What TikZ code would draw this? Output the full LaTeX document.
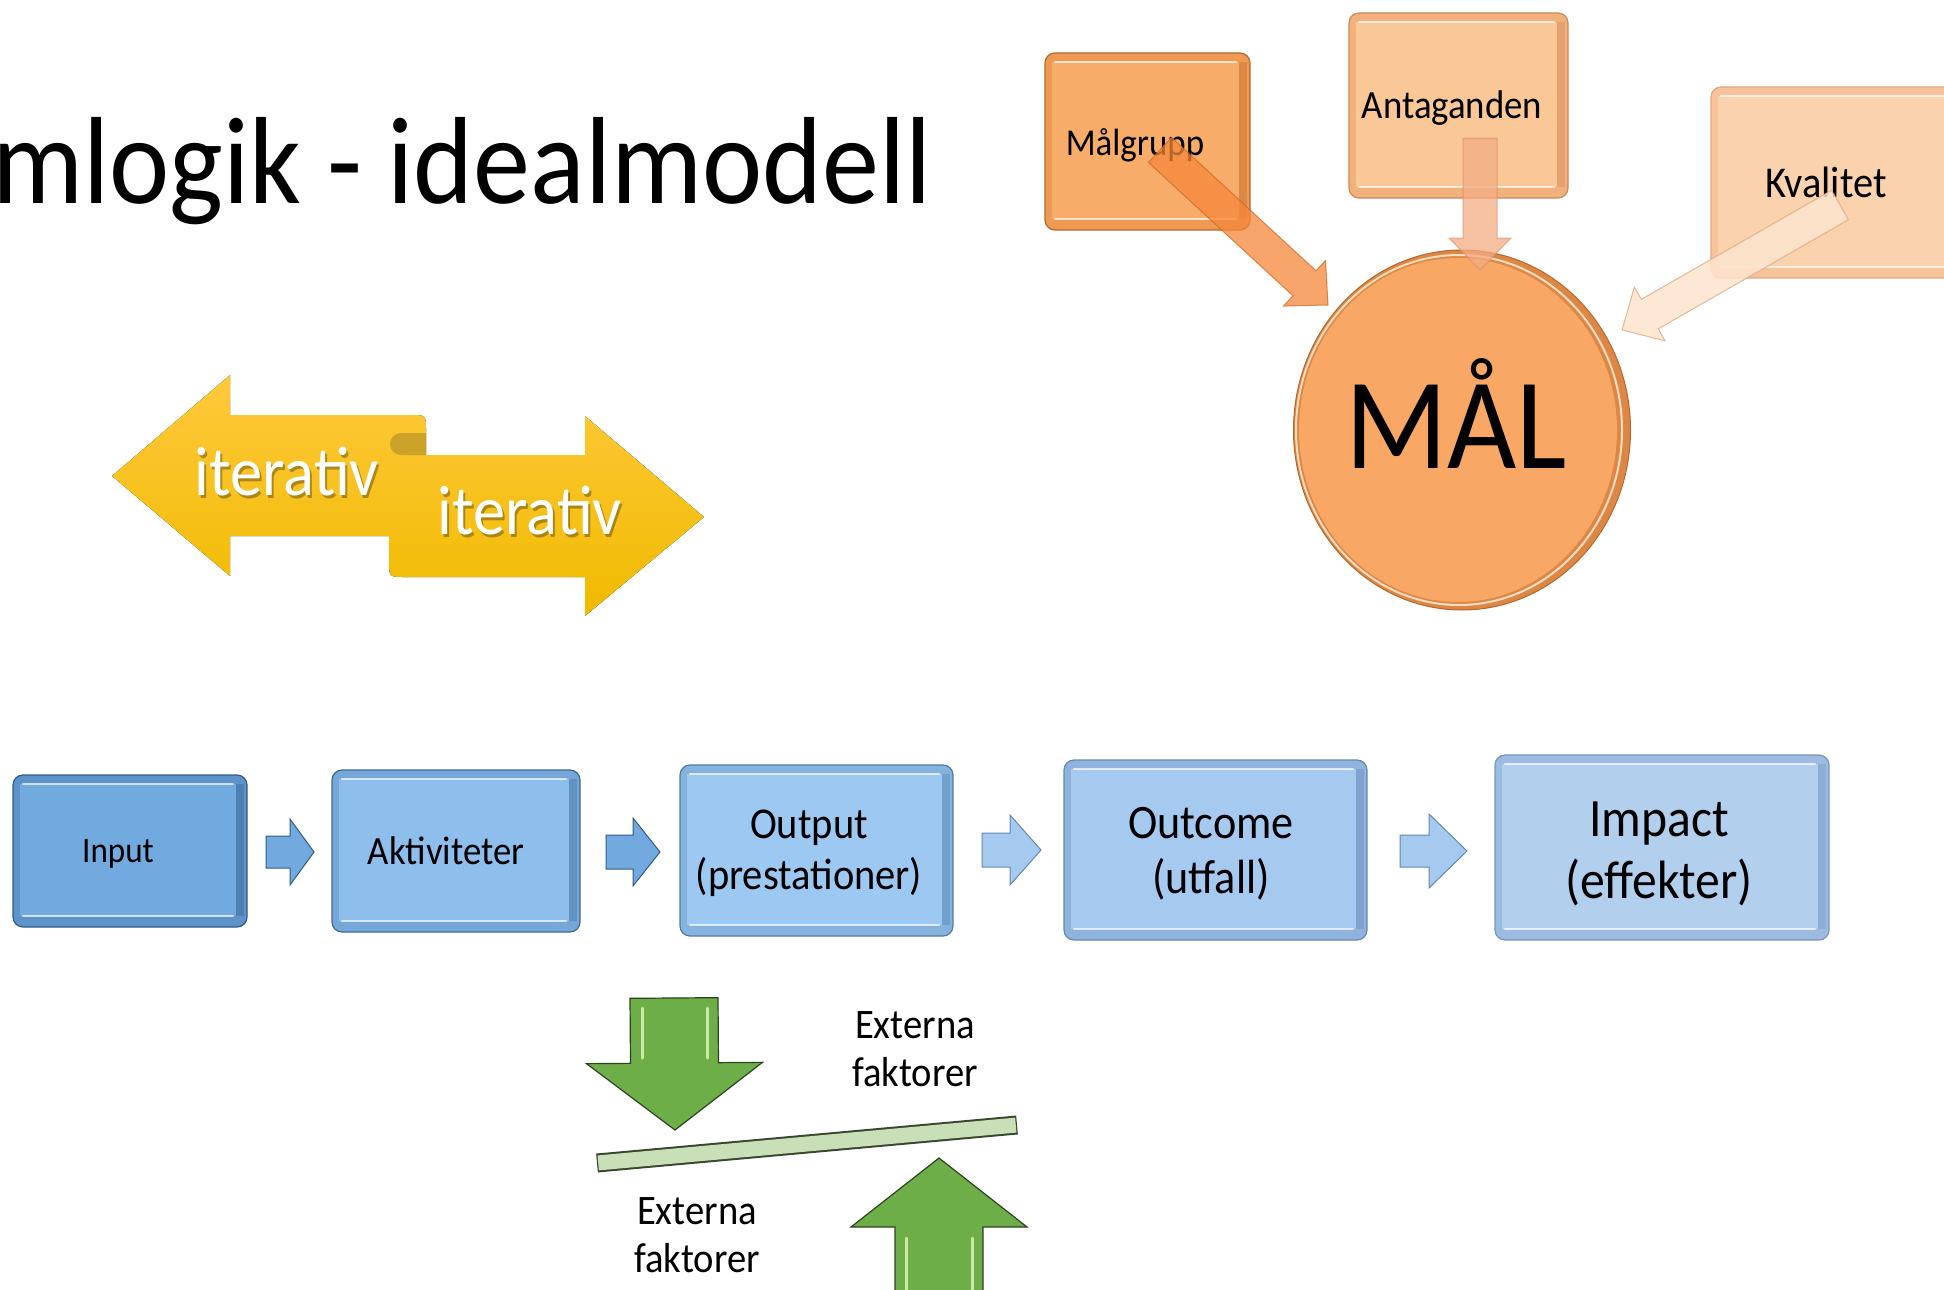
\documentclass[tikz,border=0pt]{standalone}
\usepackage{fontspec}
\setmainfont{Carlito}[FakeStretch=0.92]
\usetikzlibrary{calc,shapes.geometric}
\definecolor{yelA}{HTML}{FFC93C}
\definecolor{yelB}{HTML}{F0BA00}
\definecolor{yelFold}{HTML}{C9A227}
\definecolor{bAf}{HTML}{72AAE0}\definecolor{bAr}{HTML}{5D93C9}\definecolor{bAs}{HTML}{2F5C88}
\definecolor{bBf}{HTML}{8DBEEC}\definecolor{bBr}{HTML}{76A7D8}\definecolor{bBs}{HTML}{3E6C99}
\definecolor{bCf}{HTML}{9CC8F1}\definecolor{bCr}{HTML}{86B2DE}\definecolor{bCs}{HTML}{4F7CA8}
\definecolor{bDf}{HTML}{A6C9EF}\definecolor{bDr}{HTML}{8FB3DC}\definecolor{bDs}{HTML}{6488B4}
\definecolor{bEf}{HTML}{B3CFEE}\definecolor{bEr}{HTML}{9DBBE0}\definecolor{bEs}{HTML}{7696C0}
\definecolor{oAf}{HTML}{F8AC6A}\definecolor{oAr}{HTML}{EE9A55}\definecolor{oAs}{HTML}{B8672B}
\definecolor{oBf}{HTML}{FAC896}\definecolor{oBr}{HTML}{F2B07C}\definecolor{oBs}{HTML}{C98A5A}
\definecolor{oCf}{HTML}{FBD2AE}\definecolor{oCr}{HTML}{F7C39A}\definecolor{oCs}{HTML}{E0A882}
\definecolor{arrA}{HTML}{F5873A}\definecolor{arrAd}{HTML}{C9661F}
\definecolor{arrB}{HTML}{F4AC85}\definecolor{arrBd}{HTML}{D88A5E}
\definecolor{malRim}{HTML}{DC8745}
\definecolor{malFace}{HTML}{F9A764}
\definecolor{grF}{HTML}{6DAE48}
\definecolor{grD}{HTML}{2B4420}
\definecolor{grL}{HTML}{C9E8A4}
\definecolor{barF}{HTML}{C8DFB8}
\definecolor{barD}{HTML}{38452F}
\newcommand{\fsz}[1]{\fontsize{#1pt}{\dimexpr #1pt*23/20\relax}\selectfont}
% block arrow: x1,y1 (tail), x2,y2 (tip), shaft half width, head half width, head length, style
\newcommand{\barrow}[8]{%
  \pgfmathsetmacro{\baang}{atan2(#2-#4,#3-#1)}%
  \pgfmathsetmacro{\balen}{veclen(#3-#1,#4-#2)}%
  \begin{scope}[shift={(#1,#2)}, rotate=\baang]
    \path[#8] (0,#5) -- ({\balen-#7},#5) -- ({\balen-#7},#6) -- (\balen,0) --
      ({\balen-#7},-#6) -- ({\balen-#7},-#5) -- (0,-#5) -- cycle;
  \end{scope}}
% bevelled box: name, x1,y1,x2,y2, face, rim, shade
\newcommand{\bevbox}[8]{%
  \node[name=#1, fill=#7, draw=#8, line width=1.2pt, rounded corners=10pt, inner sep=0pt, outer sep=0pt,
    minimum width={#4-#2}, minimum height={#5-#3}] at ({(#2+#4)/2},{(#3+#5)/2}) {};
  \fill[#6] ($(#1.north west)+(7,9)$) rectangle ($(#1.south east)+(-11,-11)$);
  \fill[#8, opacity=.35] ($(#1.north east)+(-11,9)$) rectangle ($(#1.south east)+(-3,-11)$);
  \draw[white, opacity=.7, line width=2.5pt, line cap=round] ($(#1.north west)+(10,9)$) -- ($(#1.north east)+(-14,9)$);
  \draw[white, opacity=.7, line width=2.5pt, line cap=round] ($(#1.south west)+(10,-11)$) -- ($(#1.south east)+(-14,-11)$);
}
\tikzset{
  txt/.style={inner sep=0pt, outer sep=0pt, align=center, text=black},
  bluearrowA/.style={fill=bAf, draw=bAs, line width=1pt},
  bluearrowB/.style={fill=bDf, draw=bDs, line width=1pt},
  greenarrow/.style={fill=grF, draw=grD, line width=1.2pt},
  hilite/.style={grL, line width=3pt, line cap=round},
}
\begin{document}
\begin{tikzpicture}[x=1pt,y=-1pt]
\useasboundingbox (0,0) rectangle (1944,1290);
\clip (0,0) rectangle (1944,1290);
\fill[white] (0,0) rectangle (1944,1290);

% title
\node (title) [txt, anchor=base east, font=\fsz{124}] at (932,203) {mlogik - idealmodell};

% yellow iterative double arrow
\fill[top color=yelA, bottom color=yelB]
  (112,476) -- (230,375) -- (230,415) -- (410,415) .. controls (426,415) and (426,415) .. (426,431)
  -- (426,455) -- (585,455) -- (585,416) -- (704,517) -- (585,616) -- (585,577) -- (405,577)
  .. controls (389,577) and (389,577) .. (389,561) -- (389,536) -- (230,536) -- (230,576) -- cycle;
\fill[yelFold] (426,433) -- (402,433) .. controls (386,433) and (386,455) .. (402,455) -- (426,455) -- cycle;
\node (itL-s) [txt, anchor=base, font=\fsz{70}, text=black, opacity=.3] at (289,498) {iterativ};
\node (itL) [txt, anchor=base, font=\fsz{70}, text=white] at (287,495) {iterativ};
\node (itR-s) [txt, anchor=base, font=\fsz{70}, text=black, opacity=.3] at (532,537) {iterativ};
\node (itR) [txt, anchor=base, font=\fsz{70}, text=white] at (530,534) {iterativ};

% orange boxes
\bevbox{malg}{1045}{53}{1250}{230}{oAf}{oAr}{oAs}
\bevbox{anta}{1349}{13}{1568}{198}{oBf}{oBr}{oBs}
\bevbox{kval}{1711}{87}{1960}{278}{oCf}{oCr}{oCs}
\node (malg-t) [txt, anchor=base, font=\fsz{38}] at (1135,155) {Målgrupp};
\node (anta-t) [txt, anchor=base, font=\fsz{40}] at (1452,118) {Antaganden};
\node (kval-t) [txt, anchor=base, font=\fsz{44}] at (1826,197) {Kvalitet};

% MÅL ellipse
\node (mal) [ellipse, fill=malRim, draw=oAs, line width=1pt, minimum width=337pt, minimum height=360pt, inner sep=0pt] at (1462,430) {};
\fill[malFace] ($(mal.center)+(-4,0)$) ellipse [x radius=159pt, y radius=172pt];
\draw[white!60!malFace, line width=2pt] ($(mal.center)+(-3,0)$) ellipse [x radius=163pt, y radius=175pt];
\node (mal-t) [txt, anchor=base, font=\fsz{130}] at (1456,468) {MÅL};

% orange block arrows
\barrow{1160}{150}{1328}{305}{17}{31}{32}{fill=arrA, fill opacity=.75, draw=arrAd, draw opacity=.7, line width=1pt}
\barrow{1480}{138}{1480}{270}{17}{31}{32}{fill=arrB, fill opacity=.75, draw=arrBd, draw opacity=.6, line width=1pt}
\barrow{1840}{205}{1622}{330}{17}{31}{32}{fill=oCf!60!white, fill opacity=.85, draw=oCs, draw opacity=.8, line width=1pt}

% blue chain
\bevbox{input}{13}{775}{247}{927}{bAf}{bAr}{bAs}
\bevbox{akt}{332}{770}{580}{932}{bBf}{bBr}{bBs}
\bevbox{outp}{680}{765}{953}{936}{bCf}{bCr}{bCs}
\bevbox{outc}{1064}{760}{1367}{940}{bDf}{bDr}{bDs}
\bevbox{imp}{1495}{755}{1829}{940}{bEf}{bEr}{bEs}
\node (input-t) [txt, anchor=base, font=\fsz{36}] at (118,862) {Input};
\node (akt-t) [txt, anchor=base, font=\fsz{40}] at (446,864) {Aktiviteter};
\node (outp-t) [txt, font=\fsz{44}] at (809,853) {Output\\(prestationer)};
\node (outc-t) [txt, font=\fsz{48}] at (1211,854) {Outcome\\(utfall)};
\node (imp-t) [txt, font=\fsz{54}] at (1659,854) {Impact\\(effekter)};

\barrow{266}{852}{314}{852}{16}{33}{24}{bluearrowA}
\barrow{606}{852}{660}{852}{17}{34}{27}{bluearrowA}
\barrow{982}{850}{1041}{850}{17}{35}{31}{bluearrowB}
\barrow{1400}{851}{1467}{851}{16}{37}{38}{bluearrowB}

% external factors
\barrow{674}{998}{675}{1130}{44}{88}{67}{greenarrow}
\draw[hilite] (642,1008) -- (642,1058);
\draw[hilite] (707,1008) -- (707,1058);
\barrow{939}{1300}{939}{1158}{44}{88}{69}{greenarrow}
\draw[hilite] (906,1238) -- (906,1290);
\draw[hilite] (972,1238) -- (972,1290);
\coordinate (barL) at (597,1163);
\coordinate (barR) at (1017,1125);
\draw[barD, line width=19pt] (barL) -- (barR);
\draw[barF, line width=15pt] ($(barL)!1.2pt!(barR)$) -- ($(barR)!1.2pt!(barL)$);
\node (ext1) [txt, font=\fsz{42}] at (915,1049) {Externa\\faktorer};
\node (ext2) [txt, font=\fsz{42}] at (697,1235) {Externa\\faktorer};
\end{tikzpicture}
\end{document}
